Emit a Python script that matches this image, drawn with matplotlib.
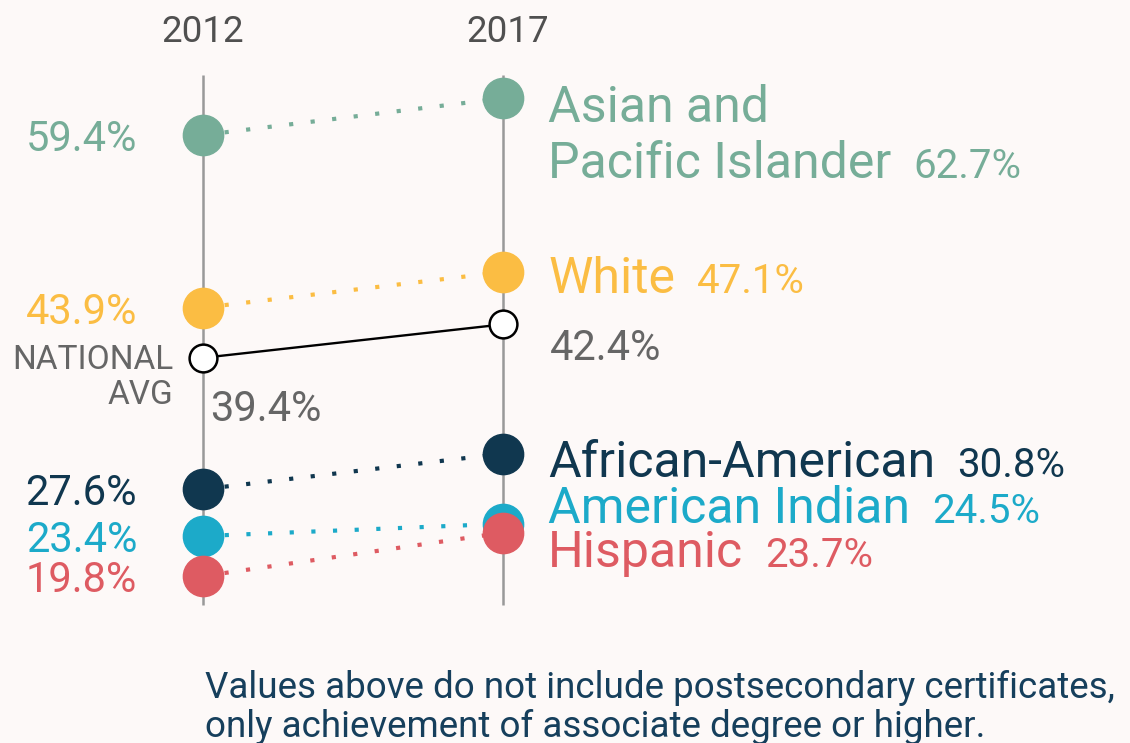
import matplotlib.pyplot as plt

plt.rcParams["font.family"] = ["Roboto", "DejaVu Sans"]

# data
years = ["2012", "2017"]
groups = ["Asian and\nPacific Islander", "White", "African-American", "American Indian", "Hispanic"]
v2012 = [59.4, 43.9, 27.6, 23.4, 19.8]
v2017 = [62.7, 47.1, 30.8, 24.5, 23.7]
colors = ["#76ad98", "#fbbd43", "#10374f", "#1caac9", "#de5b62"]
nat_avg = [39.4, 42.4]
note = ("Values above do not include postsecondary certificates,\n"
        "only achievement of associate degree or higher.")

bg = "#fdf9f8"
gray = "#666666"

fig = plt.figure(figsize=(11.3, 7.43), dpi=100, facecolor=bg)
ax = fig.add_axes([0, 0, 1, 1])
ax.set_facecolor(bg)
ax.set_xlim(-0.677, 3.09)
ax.set_ylim(4.82, 71.52)
ax.axis("off")

x = [0, 1]

# vertical year axes
lo = min(v2012 + v2017) - 2.6
hi = max(v2012 + v2017) + 2.1
ax.vlines(x, lo, hi, color="#999999", lw=1.8, zorder=1)

for i, yr in enumerate(years):
    ax.annotate(yr, xy=(x[i], 0), xycoords=("data", "figure pixels"),
                xytext=(5 * i, 743 - 42), textcoords=("offset pixels", "figure pixels"),
                ha="center", va="baseline", fontsize=26.5, color="#505050")

# national average
ax.plot(x, nat_avg, color="black", lw=1.7, zorder=4)
ax.plot(x, nat_avg, "o", ms=20, mfc="white", mec="black", mew=1.8, zorder=5)
ax.annotate("NATIONAL", (x[0], nat_avg[0]), xytext=(-30, -11), textcoords="offset pixels",
            ha="right", va="baseline", fontsize=24, color=gray)
ax.annotate("AVG", (x[0], nat_avg[0]), xytext=(-30, -46), textcoords="offset pixels",
            ha="right", va="baseline", fontsize=24, color=gray)
ax.annotate(f"{nat_avg[0]}%", (x[0], nat_avg[0]), xytext=(7, -63), textcoords="offset pixels",
            ha="left", va="baseline", fontsize=30, color=gray)
ax.annotate(f"{nat_avg[1]}%", (x[1], nat_avg[1]), xytext=(47, -36), textcoords="offset pixels",
            ha="left", va="baseline", fontsize=30, color=gray)

# baseline offset (px below the 2017 marker) for each right-hand label
name_drop = [24, 21, 23, -1, 34]

fig.canvas.draw()
renderer = fig.canvas.get_renderer()

for g, a, b, c, d in zip(groups, v2012, v2017, colors, name_drop):
    ax.plot(x, [a, b], color=c, lw=3.0, dashes=(1, 4.2), zorder=2)
    ax.plot(x, [a, b], "o", ms=29, color=c, zorder=3)
    ax.annotate(f"{a}%", (x[0], a), xytext=(-66, -16), textcoords="offset pixels",
                ha="right", va="baseline", fontsize=30, color=c)
    lines = g.split("\n")
    last = None
    for k, line in enumerate(lines):
        last = ax.annotate(line, (x[1], b), xytext=(45, -d - 56 * k), textcoords="offset pixels",
                           ha="left", va="baseline", fontsize=36, color=c)
    bb = last.get_window_extent(renderer)
    ax.annotate(f"{b}%", (x[1], b), xytext=(45 + bb.width + 22, -d - 56 * (len(lines) - 1)),
                textcoords="offset pixels", ha="left", va="baseline", fontsize=29, color=c)

fig.text(205 / 1130, (743 - 737) / 743, note, ha="left", va="baseline",
         fontsize=26.5, color="#163f5c", linespacing=1.12)

fig.savefig("out.png", dpi=100, facecolor=bg)
